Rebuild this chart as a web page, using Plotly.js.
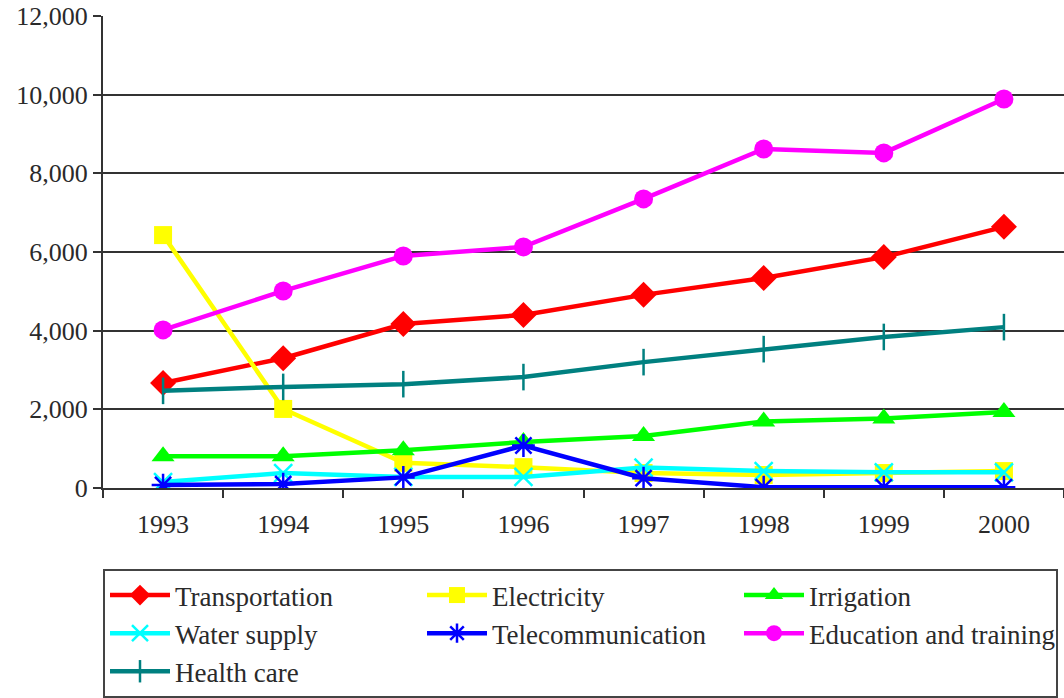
<!DOCTYPE html>
<html>
<head>
<meta charset="utf-8">
<script src="https://cdn.plot.ly/plotly-3.0.1.min.js"></script>
<style>
html,body{margin:0;padding:0;background:#fff;}
#chart{width:1064px;height:698px;}
#chart svg text{font-family:"Liberation Serif","DejaVu Serif",serif !important;}
</style>
</head>
<body>
<div id="chart"></div>
<script>
const years = ["1993","1994","1995","1996","1997","1998","1999","2000"];
const transportation = [2670, 3300, 4170, 4400, 4910, 5340, 5870, 6640];
const electricity    = [6430, 2010, 640, 530, 380, 330, 380, 430];
const irrigation     = [810, 810, 960, 1170, 1320, 1690, 1770, 1930];
const waterSupply    = [150, 380, 280, 280, 520, 430, 400, 400];
const telecom        = [75, 100, 270, 1080, 250, 20, 20, 20];
const education      = [4020, 5010, 5900, 6130, 7350, 8620, 8520, 9890];
const healthCare     = [2470, 2570, 2640, 2820, 3200, 3530, 3840, 4090];
const yTicks = [0, 2000, 4000, 6000, 8000, 10000, 12000];

const seriesDefs = [
  {name: "Transportation", y: transportation, color: "#FF0000", symbol: "diamond", size: 20},
  {name: "Electricity", y: electricity, color: "#FFFF00", symbol: "square", size: 18},
  {name: "Irrigation", y: irrigation, color: "#00FF00", symbol: "triangle-up", size: 20},
  {name: "Water supply", y: waterSupply, color: "#00FFFF", symbol: "x-thin-open", size: 18},
  {name: "Telecommunication", y: telecom, color: "#0000FF", symbol: "asterisk-open", size: 19},
  {name: "Education and training", y: education, color: "#FF00FF", symbol: "circle", size: 19},
  {name: "Health care", y: healthCare, color: "#008080", symbol: "line-ns-open", size: 19}
];

const traces = seriesDefs.map(s => ({
  type: "scatter",
  mode: "lines+markers",
  name: s.name,
  x: years,
  y: s.y,
  line: {color: s.color, width: 4.5},
  marker: {
    symbol: s.symbol,
    size: s.size,
    color: s.color,
    line: {color: s.color, width: s.symbol.indexOf("open") >= 0 ? 2.5 : 0}
  }
}));

const fontFamily = "Liberation Serif";

const layout = {
  width: 1064,
  height: 698,
  margin: {l: 103, r: 0, t: 16, b: 210},
  paper_bgcolor: "#ffffff",
  plot_bgcolor: "#ffffff",
  font: {family: fontFamily, size: 26, color: "#2a2a2a"},
  showlegend: true,
  xaxis: {
    type: "category",
    range: [-0.5, 7.5],
    showgrid: false,
    showline: true,
    linecolor: "#333333",
    linewidth: 2,
    ticks: "outside",
    tickson: "boundaries",
    ticklen: 8,
    tickwidth: 2,
    tickcolor: "#333333",
    ticklabelstandoff: 12,
    tickfont: {family: fontFamily, size: 26, color: "#2a2a2a"},
    zeroline: false,
    fixedrange: true
  },
  yaxis: {
    range: [0, 12000],
    tickvals: yTicks,
    tickformat: ",d",
    showgrid: true,
    gridcolor: "#333333",
    gridwidth: 2,
    showline: true,
    linecolor: "#333333",
    linewidth: 2,
    ticks: "outside",
    ticklen: 8,
    tickwidth: 2,
    tickcolor: "#333333",
    tickfont: {family: fontFamily, size: 26, color: "#2a2a2a"},
    zeroline: false,
    fixedrange: true
  },
  legend: {
    orientation: "h",
    x: 0,
    xanchor: "left",
    y: -0.172,
    yanchor: "top",
    bordercolor: "#444444",
    borderwidth: 2,
    bgcolor: "#ffffff",
    entrywidth: 242,
    entrywidthmode: "pixels",
    itemwidth: 60,
    font: {family: fontFamily, size: 27, color: "#2a2a2a"},
    traceorder: "normal"
  }
};

Plotly.newPlot("chart", traces, layout, {staticPlot: true, displayModeBar: false});
</script>
</body>
</html>
